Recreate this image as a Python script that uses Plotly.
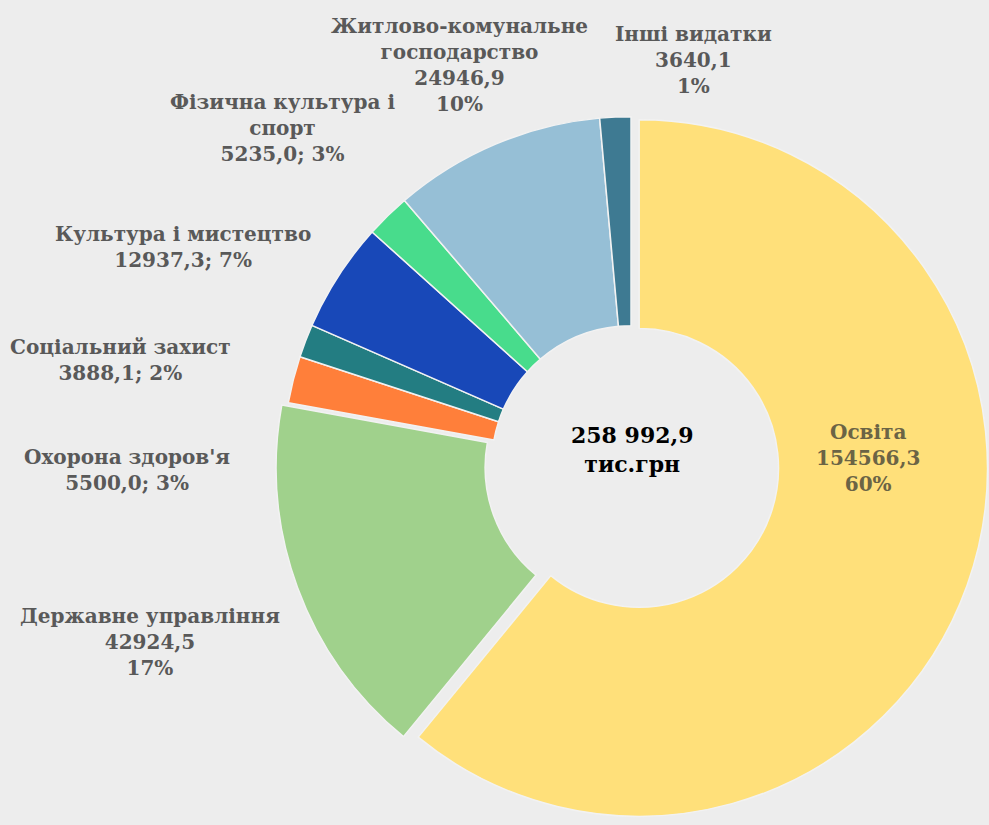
import plotly.graph_objects as go

categories = ["Освіта", "Державне управління", "Охорона здоров'я", "Соціальний захист",
              "Культура і мистецтво", "Фізична культура і спорт",
              "Житлово-комунальне господарство", "Інші видатки"]
values = [154566.3, 42924.5, 5500.0, 3888.1, 12937.3, 5235.0, 24946.9, 3640.1]
value_labels = ["154566,3", "42924,5", "5500,0", "3888,1", "12937,3", "5235,0", "24946,9", "3640,1"]
percent_labels = ["60%", "17%", "3%", "2%", "7%", "3%", "10%", "1%"]
total_label = "258 992,9<br>тис.грн"

colors = ["#FFE07A", "#A0D18C", "#FF7F3A", "#237D82", "#1848B8", "#48DC8C", "#96BFD6", "#3E7A92"]
pulls = [0.025, 0.02, 0, 0, 0, 0, 0, 0]

label_texts = [
    f"{categories[0]}<br>{value_labels[0]}<br>{percent_labels[0]}",
    f"{categories[1]}<br>{value_labels[1]}<br>{percent_labels[1]}",
    f"{categories[2]}<br>{value_labels[2]}; {percent_labels[2]}",
    f"{categories[3]}<br>{value_labels[3]}; {percent_labels[3]}",
    f"{categories[4]}<br>{value_labels[4]}; {percent_labels[4]}",
    "Фізична культура і<br>спорт<br>" + f"{value_labels[5]}; {percent_labels[5]}",
    "Житлово-комунальне<br>господарство<br>" + f"{value_labels[6]}<br>{percent_labels[6]}",
    f"{categories[7]}<br>{value_labels[7]}<br>{percent_labels[7]}",
]
# label centre positions in pixels (x, y of middle)
label_pos = [(868, 458), (150, 642), (127, 470), (120, 360), (183, 247), (282, 128), (459, 65), (693, 60)]

W, H = 989, 825

fig = go.Figure(go.Pie(
    labels=categories, values=values, sort=False, direction="clockwise", rotation=0,
    hole=0.4, pull=pulls, textinfo="none", hoverinfo="label+value+percent",
    marker=dict(colors=colors, line=dict(color="#F2F2F2", width=1.5)),
    domain=dict(x=[274 / W, 988 / W], y=[3 / H, 717 / H]),
    showlegend=False,
))

annotations = []
for i, (t, (px, py)) in enumerate(zip(label_texts, label_pos)):
    annotations.append(dict(
        x=px / W, y=1 - py / H, xref="paper", yref="paper", text=t, showarrow=False,
        xanchor="center", yanchor="middle", align="center",
        font=dict(family="DejaVu Serif", size=20, color="#6B6445" if i == 0 else "#595959", weight="bold"),
    ))
annotations.append(dict(
    x=632 / W, y=1 - 450 / H, xref="paper", yref="paper", text=total_label, showarrow=False,
    xanchor="center", yanchor="middle", align="center",
    font=dict(family="DejaVu Serif", size=22, color="#000000", weight="bold"),
))

fig.update_layout(
    width=W, height=H, margin=dict(l=0, r=0, t=0, b=0),
    paper_bgcolor="#EDEDED", plot_bgcolor="#EDEDED",
    annotations=annotations,
)
fig.write_html("out.html", config={"displayModeBar": False},
               post_script="document.body.style.margin='0';document.body.style.background='#EDEDED';")
